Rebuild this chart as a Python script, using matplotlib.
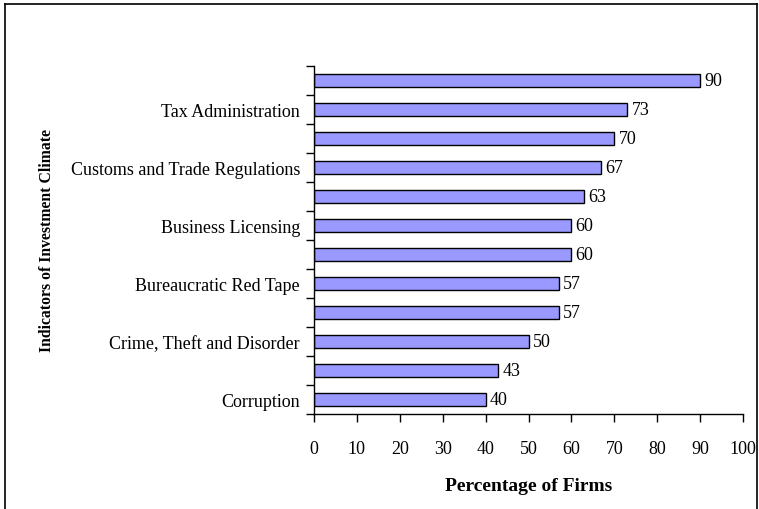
import matplotlib.pyplot as plt
from matplotlib.lines import Line2D

# categories listed bottom to top; only every other one carries a label
categories = [
    "Corruption", "",
    "Crime, Theft and Disorder", "",
    "Bureaucratic Red Tape", "",
    "Business Licensing", "",
    "Customs and Trade Regulations", "",
    "Tax Administration", "",
]
values = [40, 43, 50, 57, 57, 60, 60, 63, 67, 70, 73, 90]
x_ticks = list(range(0, 101, 10))

plt.rcParams["font.family"] = ["Liberation Serif", "DejaVu Serif"]

W, H = 759, 510
fig = plt.figure(figsize=(W / 100, H / 100), dpi=100)
fig.patch.set_facecolor("white")

# outer frame (open at the bottom edge)
fx = lambda px: px / W
fy = lambda py: 1 - py / H
for xs, ys in [((5, 5), (5, 512)), ((5, 757), (5, 5)), ((757, 757), (5, 512))]:
    fig.add_artist(Line2D([fx(x) for x in xs], [fy(y) for y in ys],
                          color="black", lw=1.2, transform=fig.transFigure))

ax = fig.add_axes([fx(314), fy(415), fx(743) - fx(314), fy(67) - fy(415)])

pos = list(range(len(values)))
ax.barh(pos, values, height=0.42, color="#9999FF", edgecolor="black", linewidth=1)

for p, v in zip(pos, values):
    ax.text(v + 1.0, p, f"{v}", va="center", ha="left", fontsize=13)

ax.set_xlim(0, 100)
ax.set_ylim(-0.5, len(values) - 0.5)
ax.set_xticks(x_ticks)
ax.set_xticklabels([str(t) for t in x_ticks], fontsize=13)
ax.tick_params(axis="x", direction="out", length=6, width=1, pad=13)

# tick marks between categories, labels at bar centres
ax.set_yticks([i - 0.5 for i in range(len(values) + 1)])
ax.set_yticklabels([])
ax.set_yticks(pos, minor=True)
ax.set_yticklabels(categories, minor=True, fontsize=13)
ax.tick_params(axis="y", which="major", direction="out", length=6, width=1)
ax.tick_params(axis="y", which="minor", length=0, pad=10)

for s in ("top", "right"):
    ax.spines[s].set_visible(False)
for s in ("left", "bottom"):
    ax.spines[s].set_linewidth(1)

ax.set_xlabel("Percentage of Firms", fontsize=14, fontweight="bold", labelpad=14)
fig.text(fx(47), fy(241), "Indicators of Investment Climate", rotation=90,
         ha="center", va="center", fontsize=11.3, fontweight="bold")

fig.savefig("out.png", dpi=100, facecolor="white")
